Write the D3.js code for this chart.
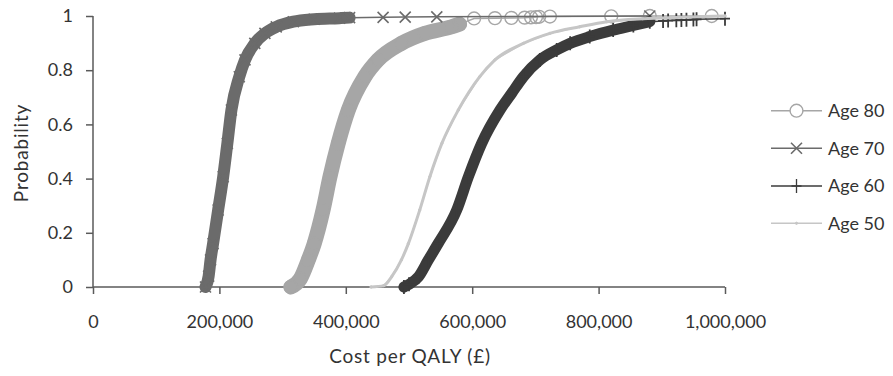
<!DOCTYPE html>
<html><head><meta charset="utf-8">
<script src="https://cdn.jsdelivr.net/npm/d3@7"></script>
<style>
body{margin:0;background:#fff}
svg{display:block}
text{font-family:Lato,"Open Sans",sans-serif;fill:#333}
</style>
</head><body>
<svg id="chart" width="893" height="376"></svg>
<script>
// ---------- data ----------
const seriesNames = ["Age 80", "Age 70", "Age 60", "Age 50"];
const xTickValues = [0, 200000, 400000, 600000, 800000, 1000000];
const yTickValues = [0, 0.2, 0.4, 0.6, 0.8, 1];
const xTitle = "Cost per QALY (£)";
const yTitle = "Probability";

// Age 80 (dense part, then sparse tail)
const age80Cost = [313000, 328000, 340700, 350000, 364000, 375000, 388000, 404000, 430000, 451000, 488000, 525000, 567000, 580000];
const age80Prob = [0, 0.03, 0.1, 0.16, 0.284, 0.407, 0.53, 0.653, 0.776, 0.838, 0.899, 0.936, 0.96, 0.97];
const age80TailCost = [603000, 636000, 662000, 683000, 693000, 701000, 706000, 723000, 820000, 881000, 979000];
const age80TailProb = [0.991, 0.992, 0.993, 0.994, 0.995, 0.996, 0.997, 0.998, 0.999, 1, 1];

// Age 70
const age70Cost = [178000, 183000, 186000, 190000, 198000, 206000, 212600, 219000, 231500, 240500, 256000, 272000, 290000, 317000, 350000, 390000, 406000];
const age70Prob = [0, 0.04, 0.1, 0.16, 0.284, 0.407, 0.53, 0.653, 0.776, 0.838, 0.899, 0.936, 0.96, 0.979, 0.988, 0.992, 0.994];
const age70TailCost = [459000, 494000, 544000, 881000];
const age70TailProb = [0.995, 0.996, 0.997, 1];

// Age 60
const age60Cost = [492000, 500000, 515000, 530600, 546000, 575500, 594000, 615000, 644000, 662500, 681000, 707000, 733700, 755000, 786000, 823000, 855000, 881000];
const age60Prob = [0, 0.01, 0.038, 0.1, 0.16, 0.284, 0.407, 0.53, 0.653, 0.715, 0.776, 0.838, 0.875, 0.899, 0.924, 0.948, 0.965, 0.979];
const age60TailCost = [902000, 910000, 923000, 931000, 939000, 950000, 955000, 1000000];
const age60TailProb = [0.982, 0.983, 0.984, 0.985, 0.986, 0.987, 0.988, 0.99];

// Age 50
const age50Cost = [440000, 460000, 472600, 488000, 499000, 517000, 533000, 552000, 578000, 612000, 636000, 681000, 723000, 770000, 813000, 870000, 930000, 1000000];
const age50Prob = [0, 0.005, 0.038, 0.1, 0.16, 0.284, 0.407, 0.53, 0.653, 0.776, 0.838, 0.899, 0.936, 0.96, 0.979, 0.99, 0.995, 1];
const age50TailCost = [];
const age50TailProb = [];

// ---------- rendering ----------
const svg = d3.select("#chart");
const x = d3.scaleLinear().domain([0, 1000000]).range([93, 725]);
const y = d3.scaleLinear().domain([0, 1]).range([287, 16]);

const zip = (a, b) => a.map((v, i) => ({c: v, p: b[i]}));

const markerPaths = {
  circle: d3.symbol().type(d3.symbolCircle).size(130)(),
  x: "M-5.5,-5.5L5.5,5.5M-5.5,5.5L5.5,-5.5",
  plus: "M0,-7V7M-5,0H5",
  dot: d3.symbol().type(d3.symbolCircle).size(4)()
};

const series = [
  {name: seriesNames[0], body: zip(age80Cost, age80Prob), tail: zip(age80TailCost, age80TailProb),
   color: "#a6a6a6", band: 15, marker: "circle", fill: "#fff", mstroke: 1.4},
  {name: seriesNames[1], body: zip(age70Cost, age70Prob), tail: zip(age70TailCost, age70TailProb),
   color: "#6b6b6b", band: 12, marker: "x", fill: "none", mstroke: 1.6},
  {name: seriesNames[2], body: zip(age60Cost, age60Prob), tail: zip(age60TailCost, age60TailProb),
   color: "#3b3b3b", band: 11, marker: "plus", fill: "none", mstroke: 1.8},
  {name: seriesNames[3], body: zip(age50Cost, age50Prob), tail: zip(age50TailCost, age50TailProb),
   color: "#c6c6c6", band: 3, marker: "dot", fill: "#c6c6c6", mstroke: 1}
];

const line = d3.line().x(d => x(d.c)).y(d => y(d.p));
const smooth = d3.line().x(d => x(d.c)).y(d => y(d.p)).curve(d3.curveMonotoneX);

// axes
const gx = svg.append("g").attr("transform", "translate(0,287)")
  .call(d3.axisBottom(x).tickValues(xTickValues).tickSize(7).tickPadding(21)
    .tickFormat(d3.format(",")));
const gy = svg.append("g").attr("transform", "translate(93,0)")
  .call(d3.axisLeft(y).tickValues(yTickValues).tickSize(7).tickPadding(13)
    .tickFormat(d => d === 0 ? "0" : d === 1 ? "1" : d3.format(".1f")(d)));
[gx, gy].forEach(g => {
  g.selectAll("path,line").attr("stroke", "#5a5a5a").attr("stroke-width", 1.5);
  g.selectAll("text").attr("font-size", 18).attr("fill", "#333")
    .style("font-family", "Lato, 'Open Sans', sans-serif");
});
gy.select(".domain").attr("d", "M0,16V287");
gx.select(".domain").attr("d", "M93,0H725");

// series
series.forEach(s => {
  const g = svg.append("g");
  const all = s.body.concat(s.tail);
  g.append("path").attr("d", line(all)).attr("fill", "none")
    .attr("stroke", s.color).attr("stroke-width", 1.5);
  g.append("path").attr("d", smooth(s.body)).attr("fill", "none")
    .attr("stroke", s.color).attr("stroke-width", s.band)
    .attr("stroke-linecap", "round").attr("stroke-linejoin", "round");
  g.selectAll("path.m").data(all).join("path").attr("class", "m")
    .attr("transform", d => `translate(${x(d.c)},${y(d.p)})`)
    .attr("d", markerPaths[s.marker])
    .attr("fill", s.marker === "circle" ? "none" : s.fill)
    .attr("stroke", s.color).attr("stroke-width", s.mstroke);
});

// legend
const legendY = [110.7, 148.3, 186, 223.3];
series.forEach((s, i) => {
  const g = svg.append("g").attr("transform", `translate(0,${legendY[i]})`);
  g.append("line").attr("x1", 771).attr("x2", 822).attr("y1", 0).attr("y2", 0)
    .attr("stroke", s.color).attr("stroke-width", 1.5);
  g.append("path").attr("transform", "translate(796.5,0)")
    .attr("d", markerPaths[s.marker])
    .attr("fill", s.marker === "circle" ? "#fff" : s.fill)
    .attr("stroke", s.color).attr("stroke-width", s.marker === "plus" ? 1.3 : s.mstroke);
  g.append("text").attr("x", 828).attr("y", 0).attr("dy", "0.35em")
    .attr("font-size", 18).text(s.name);
});

// titles
svg.append("text").attr("x", 410).attr("y", 356).attr("dy", "0.35em")
  .attr("text-anchor", "middle").attr("font-size", 19).attr("letter-spacing", 0.8).text(xTitle);
svg.append("text").attr("transform", "translate(21,153) rotate(-90)")
  .attr("dy", "0.35em").attr("text-anchor", "middle").attr("font-size", 19)
  .attr("letter-spacing", 0.8).text(yTitle);
</script>
</body></html>
